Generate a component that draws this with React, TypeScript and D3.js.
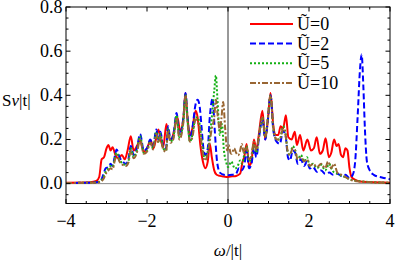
import React from "react";
import * as d3 from "d3";

const W = 395;
const H = 260;

// ---------- data ----------
const seriesNames = ["Ũ=0", "Ũ=2", "Ũ=5", "Ũ=10"];

const u0X = [-4, -3.4, -3.25, -3.18, -3.12, -3.06, -3.0, -2.95, -2.9, -2.85, -2.78, -2.7, -2.62, -2.55, -2.48, -2.4, -2.33, -2.25, -2.17, -2.08, -2.0, -1.91, -1.84, -1.78, -1.72, -1.65, -1.6, -1.52, -1.46, -1.4, -1.33, -1.25, -1.18, -1.1, -1.05, -1.0, -0.94, -0.88, -0.8, -0.75, -0.68, -0.62, -0.56, -0.5, -0.45, -0.4, -0.34, -0.28, -0.2, -0.1, 0, 0.1, 0.2, 0.3, 0.36, 0.4, 0.46, 0.52, 0.58, 0.64, 0.7, 0.76, 0.85, 0.92, 0.98, 1.05, 1.12, 1.18, 1.24, 1.3, 1.36, 1.43, 1.49, 1.57, 1.65, 1.7, 1.78, 1.86, 1.96, 2.05, 2.12, 2.19, 2.27, 2.34, 2.41, 2.49, 2.55, 2.62, 2.68, 2.73, 2.79, 2.84, 2.9, 2.95, 3.0, 3.05, 3.13, 3.25, 3.5, 4];
const u0Y = [0.004, 0.006, 0.012, 0.03, 0.11, 0.12, 0.16, 0.175, 0.15, 0.165, 0.13, 0.115, 0.13, 0.11, 0.15, 0.215, 0.15, 0.17, 0.196, 0.143, 0.16, 0.196, 0.16, 0.2, 0.245, 0.19, 0.165, 0.27, 0.21, 0.2, 0.24, 0.3, 0.24, 0.3, 0.41, 0.3, 0.22, 0.25, 0.33, 0.3, 0.17, 0.1, 0.07, 0.1, 0.18, 0.12, 0.06, 0.04, 0.035, 0.032, 0.03, 0.033, 0.035, 0.045, 0.1, 0.12, 0.18, 0.08, 0.1, 0.2, 0.15, 0.22, 0.33, 0.2, 0.28, 0.41, 0.26, 0.22, 0.22, 0.26, 0.25, 0.31, 0.21, 0.2, 0.235, 0.175, 0.22, 0.15, 0.2, 0.15, 0.16, 0.21, 0.135, 0.15, 0.205, 0.12, 0.14, 0.2, 0.17, 0.18, 0.13, 0.12, 0.16, 0.15, 0.07, 0.03, 0.018, 0.01, 0.007, 0.004];

const u2X = [-4, -3.3, -3.15, -3.08, -3.02, -2.95, -2.9, -2.85, -2.8, -2.75, -2.68, -2.6, -2.52, -2.46, -2.4, -2.33, -2.25, -2.17, -2.08, -2.0, -1.92, -1.85, -1.77, -1.72, -1.67, -1.6, -1.53, -1.48, -1.42, -1.35, -1.27, -1.2, -1.1, -1.05, -1.0, -0.94, -0.88, -0.8, -0.75, -0.7, -0.65, -0.6, -0.55, -0.5, -0.45, -0.38, -0.33, -0.27, -0.2, -0.1, 0, 0.1, 0.2, 0.27, 0.33, 0.4, 0.46, 0.52, 0.58, 0.64, 0.7, 0.76, 0.85, 0.92, 0.98, 1.05, 1.12, 1.2, 1.28, 1.36, 1.42, 1.48, 1.53, 1.6, 1.66, 1.72, 1.8, 1.88, 1.95, 2.02, 2.1, 2.2, 2.3, 2.4, 2.5, 2.6, 2.7, 2.8, 2.9, 3.0, 3.08, 3.14, 3.2, 3.26, 3.3, 3.34, 3.38, 3.43, 3.5, 3.6, 3.8, 4];
const u2Y = [0.003, 0.005, 0.012, 0.04, 0.07, 0.075, 0.09, 0.08, 0.12, 0.155, 0.12, 0.1, 0.09, 0.11, 0.17, 0.13, 0.16, 0.225, 0.15, 0.16, 0.2, 0.17, 0.245, 0.2, 0.235, 0.17, 0.16, 0.26, 0.2, 0.22, 0.32, 0.22, 0.3, 0.41, 0.3, 0.2, 0.25, 0.36, 0.38, 0.35, 0.25, 0.15, 0.13, 0.16, 0.3, 0.385, 0.25, 0.1, 0.05, 0.04, 0.038, 0.04, 0.045, 0.07, 0.06, 0.08, 0.15, 0.07, 0.09, 0.16, 0.12, 0.2, 0.29, 0.2, 0.28, 0.4, 0.24, 0.19, 0.18, 0.24, 0.22, 0.12, 0.105, 0.15, 0.14, 0.09, 0.11, 0.08, 0.1, 0.068, 0.075, 0.053, 0.06, 0.045, 0.05, 0.04, 0.045, 0.035, 0.04, 0.025, 0.04, 0.1, 0.3, 0.52, 0.585, 0.45, 0.25, 0.1, 0.06, 0.04, 0.028, 0.02];

const u5X = [-4, -3.3, -3.15, -3.08, -3.0, -2.95, -2.9, -2.85, -2.8, -2.75, -2.68, -2.6, -2.52, -2.46, -2.4, -2.33, -2.25, -2.17, -2.08, -2.0, -1.92, -1.85, -1.77, -1.72, -1.67, -1.6, -1.53, -1.48, -1.42, -1.35, -1.27, -1.2, -1.1, -1.05, -1.0, -0.94, -0.88, -0.8, -0.75, -0.7, -0.64, -0.58, -0.52, -0.46, -0.4, -0.34, -0.3, -0.26, -0.2, -0.15, -0.1, -0.05, 0, 0.08, 0.17, 0.24, 0.3, 0.35, 0.41, 0.46, 0.52, 0.58, 0.64, 0.7, 0.76, 0.85, 0.92, 0.98, 1.05, 1.12, 1.2, 1.28, 1.36, 1.42, 1.48, 1.53, 1.6, 1.66, 1.72, 1.8, 1.88, 1.95, 2.02, 2.1, 2.2, 2.3, 2.4, 2.5, 2.55, 2.62, 2.7, 2.8, 2.9, 3.0, 3.1, 3.3, 3.6, 4];
const u5Y = [0.003, 0.005, 0.01, 0.03, 0.06, 0.07, 0.08, 0.075, 0.11, 0.14, 0.11, 0.09, 0.085, 0.1, 0.16, 0.12, 0.15, 0.215, 0.14, 0.15, 0.19, 0.16, 0.235, 0.19, 0.225, 0.16, 0.15, 0.25, 0.19, 0.21, 0.31, 0.21, 0.29, 0.4, 0.29, 0.19, 0.22, 0.3, 0.3, 0.27, 0.18, 0.12, 0.13, 0.2, 0.3, 0.42, 0.49, 0.38, 0.22, 0.27, 0.15, 0.1, 0.075, 0.1, 0.068, 0.08, 0.105, 0.09, 0.14, 0.17, 0.1, 0.12, 0.18, 0.14, 0.21, 0.3, 0.21, 0.29, 0.4, 0.25, 0.2, 0.2, 0.26, 0.23, 0.14, 0.13, 0.17, 0.15, 0.11, 0.13, 0.1, 0.12, 0.08, 0.09, 0.07, 0.085, 0.06, 0.09, 0.07, 0.05, 0.045, 0.035, 0.03, 0.02, 0.015, 0.01, 0.006, 0.004];

const u10X = [-4, -3.3, -3.15, -3.08, -3.0, -2.95, -2.9, -2.85, -2.8, -2.75, -2.68, -2.6, -2.52, -2.46, -2.4, -2.33, -2.25, -2.17, -2.08, -2.0, -1.92, -1.85, -1.77, -1.72, -1.67, -1.6, -1.53, -1.48, -1.42, -1.35, -1.27, -1.2, -1.1, -1.05, -1.0, -0.94, -0.88, -0.8, -0.75, -0.7, -0.64, -0.58, -0.52, -0.46, -0.4, -0.34, -0.3, -0.25, -0.2, -0.16, -0.12, -0.07, -0.02, 0.02, 0.06, 0.09, 0.15, 0.2, 0.25, 0.3, 0.34, 0.39, 0.45, 0.52, 0.58, 0.64, 0.7, 0.76, 0.85, 0.92, 0.98, 1.05, 1.12, 1.2, 1.28, 1.36, 1.42, 1.48, 1.53, 1.6, 1.66, 1.72, 1.8, 1.88, 1.95, 2.02, 2.1, 2.2, 2.3, 2.4, 2.47, 2.55, 2.62, 2.7, 2.8, 2.9, 3.0, 3.1, 3.3, 3.6, 4];
const u10Y = [0.003, 0.004, 0.008, 0.02, 0.05, 0.06, 0.07, 0.065, 0.1, 0.13, 0.1, 0.085, 0.08, 0.095, 0.15, 0.115, 0.14, 0.2, 0.135, 0.145, 0.185, 0.155, 0.225, 0.185, 0.215, 0.155, 0.145, 0.24, 0.185, 0.2, 0.3, 0.2, 0.28, 0.4, 0.28, 0.19, 0.21, 0.29, 0.28, 0.25, 0.16, 0.105, 0.12, 0.18, 0.25, 0.3, 0.38, 0.3, 0.24, 0.3, 0.37, 0.25, 0.15, 0.175, 0.14, 0.135, 0.16, 0.14, 0.128, 0.15, 0.18, 0.14, 0.17, 0.11, 0.13, 0.19, 0.15, 0.21, 0.3, 0.21, 0.29, 0.4, 0.25, 0.2, 0.2, 0.25, 0.22, 0.14, 0.13, 0.16, 0.15, 0.11, 0.12, 0.1, 0.11, 0.08, 0.09, 0.075, 0.09, 0.07, 0.1, 0.07, 0.09, 0.05, 0.04, 0.03, 0.02, 0.013, 0.009, 0.006, 0.004];

const xMajor = [-4, -2, 0, 2, 4];
const xMajorLabels = ["\u22124", "\u22122", "0", "2", "4"];
const yMajor = [0, 0.2, 0.4, 0.6, 0.8];
const yMajorLabels = ["0.0", "0.2", "0.4", "0.6", "0.8"];

// ---------- layout ----------
const L = 66, R = 390, T = 7, B = 203.5;
const FONT = "Liberation Serif";
const FS = 18;
const K = 2; // render text large, then scale down

const colors = ["#ff0000", "#0000ff", "#13b013", "#996633"];
const dashes = ["none", "6,3", "2,2", "6,2,2,2"];

function Label(props: { x: number; y: number; size: number; anchor?: string; children: React.ReactNode }) {
  return (
    <text
      transform={`translate(${props.x},${props.y}) scale(${1 / K})`}
      textAnchor={props.anchor || "start"}
      fontFamily={FONT}
      fontSize={props.size * K}
      fill="#000"
    >
      {props.children}
    </text>
  );
}

export default function App() {
  const x = d3.scaleLinear().domain([-4, 4]).range([L, R]);
  const y = d3.scaleLinear().domain([-0.09, 0.8]).range([B, T]);

  const series = [
    { xs: u0X, ys: u0Y },
    { xs: u2X, ys: u2Y },
    { xs: u5X, ys: u5Y },
    { xs: u10X, ys: u10Y },
  ];

  const line = d3
    .line<[number, number]>()
    .x((d) => x(d[0]))
    .y((d) => y(d[1]))
    .curve(d3.curveMonotoneX);

  const xMinor = d3.range(-4, 4.001, 0.5).filter((v) => !xMajor.some((m) => Math.abs(m - v) < 1e-6));
  const yMinor = d3.range(-0.05, 0.8, 0.05).filter((v) => !yMajor.some((m) => Math.abs(m - v) < 1e-6));

  const majLen = 4.5, minLen = 2.5;

  const legendRows = [24, 43.5, 63.2, 83];

  return (
    <svg width={W} height={H} style={{ display: "block", position: "absolute", left: 0, top: 0 }}>
      <defs>
        <clipPath id="plotclip">
          <rect x={L} y={T} width={R - L} height={B - T} />
        </clipPath>
      </defs>
      <rect x={0} y={0} width={W} height={H} fill="#fff" />

      {/* axes lines */}
      <line x1={L} x2={R} y1={y(0)} y2={y(0)} stroke="#8a8a8a" strokeWidth={1} />
      <line x1={x(0)} x2={x(0)} y1={T} y2={B} stroke="#333" strokeWidth={1} />

      {/* curves */}
      <g clipPath="url(#plotclip)">
        {series.map((s, i) => (
          <path
            key={i}
            d={line(s.xs.map((v, j) => [v, s.ys[j]] as [number, number])) || ""}
            fill="none"
            stroke={colors[i]}
            strokeWidth={2}
            strokeDasharray={dashes[i]}
            strokeLinejoin="round"
          />
        ))}
      </g>

      {/* frame */}
      <rect x={L} y={T} width={R - L} height={B - T} fill="none" stroke="#000" strokeWidth={1} />

      {/* x ticks */}
      {xMajor.map((v) => (
        <g key={"xm" + v}>
          <line x1={x(v)} x2={x(v)} y1={B} y2={B - majLen} stroke="#000" />
          <line x1={x(v)} x2={x(v)} y1={T} y2={T + majLen} stroke="#000" />
        </g>
      ))}
      {xMinor.map((v) => (
        <g key={"xn" + v}>
          <line x1={x(v)} x2={x(v)} y1={B} y2={B - minLen} stroke="#000" />
          <line x1={x(v)} x2={x(v)} y1={T} y2={T + minLen} stroke="#000" />
        </g>
      ))}
      {xMajor.map((v, i) => (
        <Label key={"xl" + v} x={x(v)} y={226.5} size={FS} anchor="middle">
          {xMajorLabels[i]}
        </Label>
      ))}

      {/* y ticks */}
      {yMajor.map((v) => (
        <g key={"ym" + v}>
          <line x1={L} x2={L + majLen} y1={y(v)} y2={y(v)} stroke="#000" />
          <line x1={R} x2={R - majLen} y1={y(v)} y2={y(v)} stroke="#000" />
        </g>
      ))}
      {yMinor.map((v) => (
        <g key={"yn" + v}>
          <line x1={L} x2={L + minLen} y1={y(v)} y2={y(v)} stroke="#000" />
          <line x1={R} x2={R - minLen} y1={y(v)} y2={y(v)} stroke="#000" />
        </g>
      ))}
      {yMajor.map((v, i) => (
        <Label key={"yl" + v} x={62.5} y={y(v) + 5.5} size={FS} anchor="end">
          {yMajorLabels[i]}
        </Label>
      ))}

      {/* axis labels */}
      <Label x={2} y={106} size={17}>
        S<tspan fontStyle="italic">ν</tspan>|t|
      </Label>
      <Label x={228} y={256} size={17} anchor="middle">
        <tspan fontStyle="italic">ω</tspan>/|t|
      </Label>

      {/* legend */}
      {seriesNames.map((name, i) => (
        <g key={name}>
          <line x1={250} x2={293} y1={legendRows[i]} y2={legendRows[i]} stroke={colors[i]} strokeWidth={2} strokeDasharray={dashes[i]} />
          <Label x={297} y={legendRows[i] + 6} size={FS}>
            {name}
          </Label>
        </g>
      ))}
    </svg>
  );
}
